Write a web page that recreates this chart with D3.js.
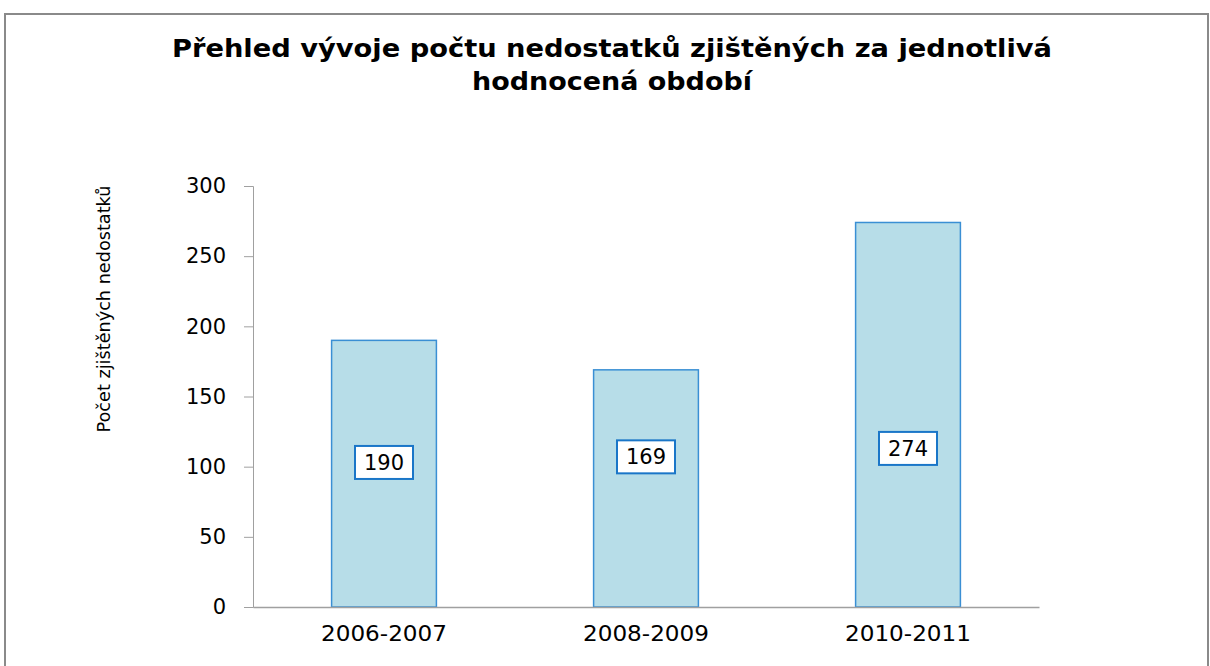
<!DOCTYPE html>
<html>
<head>
<meta charset="utf-8">
<script src="https://cdn.jsdelivr.net/npm/d3@7"></script>
<style>
  body { margin: 0; background: #fff; }
  svg text { font-family: "DejaVu Sans", Verdana, sans-serif; fill: #000; }
</style>
</head>
<body>
<svg id="chart" width="1210" height="666"></svg>
<script>
// data
let periods = ["2006-2007", "2008-2009", "2010-2011"];
let counts = [190, 169, 274];
// where the value boxes sit, in axis units
let labelAt = [103, 107, 113];
let yTicks = [0, 50, 100, 150, 200, 250, 300];
let titleLines = ["Přehled vývoje počtu nedostatků zjištěných za jednotlivá", "hodnocená období"];
let yTitle = "Počet zjištěných nedostatků";

let svg = d3.select("#chart");

// frame of the chart area
svg.append("path")
    .attr("d", "M5,666 V14 H1208 V666")
    .attr("fill", "none")
    .attr("stroke", "#8a8a8a")
    .attr("stroke-width", 2);

let x = d3.scaleBand().domain(periods).range([253, 1039]).paddingInner(0.6).paddingOuter(0.3);
let y = d3.scaleLinear().domain([0, 300]).range([607, 186]);

// title
svg.append("g").selectAll("text")
    .data(titleLines).enter()
    .append("text")
    .attr("x", 612)
    .attr("y", (d, i) => 57 + i * 33)
    .attr("text-anchor", "middle")
    .attr("font-weight", "bold")
    .attr("font-size", 24)
    .attr("textLength", (d, i) => i === 0 ? 880 : 280)
    .attr("lengthAdjust", "spacingAndGlyphs")
    .text(d => d);

// y axis
let yAxis = svg.append("g")
    .attr("transform", "translate(253,0)")
    .call(d3.axisLeft(y).tickValues(yTicks).tickSize(9).tickPadding(18));
yAxis.select(".domain").attr("stroke", "#a0a0a0");
yAxis.selectAll(".tick line").attr("stroke", "#a0a0a0");
yAxis.selectAll(".tick text")
    .attr("font-size", 21)
    .attr("font-family", "'DejaVu Sans', Verdana, sans-serif")
    .attr("fill", "#000");

// y axis title
svg.append("text")
    .attr("transform", "translate(110,309) rotate(-90)")
    .attr("text-anchor", "middle")
    .attr("font-family", "'Liberation Sans Narrow', 'Liberation Sans', sans-serif")
    .attr("font-size", 18)
    .attr("textLength", 247)
    .attr("lengthAdjust", "spacingAndGlyphs")
    .text(yTitle);

// bars
svg.append("g").selectAll("rect")
    .data(counts).enter()
    .append("rect")
    .attr("x", (d, i) => x(periods[i]))
    .attr("y", d => y(d))
    .attr("width", x.bandwidth())
    .attr("height", d => y(0) - y(d))
    .attr("fill", "#b7dde8")
    .attr("stroke", "#3a8fd4")
    .attr("stroke-width", 1.5);

// x axis
let xAxis = svg.append("g")
    .attr("transform", "translate(0,607)")
    .call(d3.axisBottom(x).tickSize(0).tickPadding(19).tickSizeOuter(0));
xAxis.select(".domain").attr("stroke", "#a0a0a0").attr("stroke-width", 1.5);
xAxis.selectAll(".tick text")
    .attr("font-size", 21)
    .attr("font-family", "'DejaVu Sans', Verdana, sans-serif")
    .attr("fill", "#000")
    .attr("textLength", 126)
    .attr("lengthAdjust", "spacingAndGlyphs");

// value boxes
let boxes = svg.append("g").selectAll("g")
    .data(counts).enter()
    .append("g")
    .attr("transform", (d, i) => "translate(" + (x(periods[i]) + x.bandwidth() / 2) + "," + y(labelAt[i]) + ")");

boxes.append("rect")
    .attr("x", -29)
    .attr("y", -16.5)
    .attr("width", 58)
    .attr("height", 33)
    .attr("fill", "#fff")
    .attr("stroke", "#1a76c8")
    .attr("stroke-width", 2);

boxes.append("text")
    .attr("text-anchor", "middle")
    .attr("dy", "0.36em")
    .attr("font-size", 21)
    .text(d => d);
</script>
</body>
</html>
